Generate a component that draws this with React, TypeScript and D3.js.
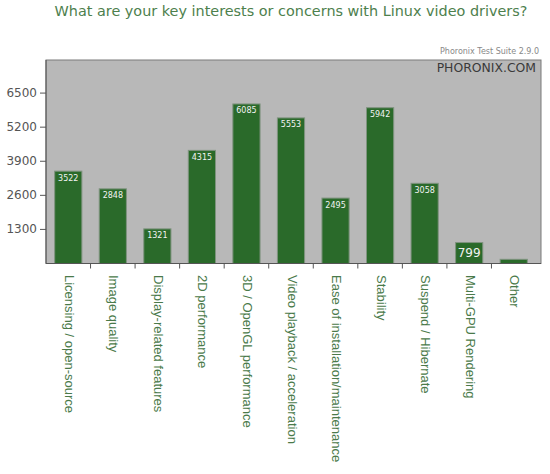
import * as React from "react";
import * as d3 from "d3";

const categories = [
  "Licensing / open-source",
  "Image quality",
  "Display-related features",
  "2D performance",
  "3D / OpenGL performance",
  "Video playback / acceleration",
  "Ease of installation/maintenance",
  "Stability",
  "Suspend / Hibernate",
  "Multi-GPU Rendering",
  "Other",
];
const votes = [3522, 2848, 1321, 4315, 6085, 5553, 2495, 5942, 3058, 799, 160];
const yTicks = [1300, 2600, 3900, 5200, 6500];

const title = "What are your key interests or concerns with Linux video drivers?";

const W = 550;
const H = 474;
const plot = { left: 46, right: 541, top: 60, bottom: 263.5 };

export default function App() {
  const x = d3
    .scaleBand<string>()
    .domain(categories)
    .range([plot.left, 536])
    .paddingInner(0.39)
    .paddingOuter(0.195);
  const y = d3.scaleLinear().domain([0, 7800]).range([plot.bottom, 59]);
  const step = x.step();

  return (
    <svg
      width={W}
      height={H}
      style={{ position: "absolute", left: 0, top: 0, background: "#fff" }}
      fontFamily="DejaVu Sans"
    >
      <text x={291} y={16} textAnchor="middle" fontSize={14.4} fill="#4d804d">
        {title}
      </text>
      <text x={539} y={54} textAnchor="end" fontSize={8} fill="#888">
        Phoronix Test Suite 2.9.0
      </text>

      {/* plot frame */}
      <rect
        x={plot.left}
        y={plot.top}
        width={plot.right - plot.left}
        height={plot.bottom - plot.top}
        fill="#b8b8b8"
        stroke="#7a7a7a"
        strokeWidth={1}
      />
      <text x={536} y={72} textAnchor="end" fontSize={12.4} fill="#3a3a3a">
        PHORONIX.COM
      </text>

      {/* bars */}
      {categories.map((c, i) => {
        const v = votes[i];
        const bx = x(c) as number;
        const bw = x.bandwidth();
        const top = y(v);
        const h = plot.bottom - top;
        return (
          <g key={c}>
            <rect x={bx} y={top} width={bw} height={h} fill="#2a6a2a" stroke="#7f937f" strokeWidth={1} />
            {h > 25 && (
              <text x={bx + bw / 2} y={top + 9.5} textAnchor="middle" fontSize={8} fill="#f2f2f2">
                {v}
              </text>
            )}
            {h > 10 && h <= 25 && (
              <text x={bx + bw / 2} y={top + 14} textAnchor="middle" fontSize={12} fill="#f2f2f2">
                {v}
              </text>
            )}
          </g>
        );
      })}

      {/* axes */}
      <line x1={plot.left} x2={plot.left} y1={plot.top} y2={plot.bottom} stroke="#555" />
      <line x1={plot.left} x2={plot.right} y1={plot.bottom} y2={plot.bottom} stroke="#555" />
      {yTicks.map((t) => (
        <g key={t}>
          <line x1={plot.left - 6} x2={plot.left} y1={y(t)} y2={y(t)} stroke="#555" />
          <text x={37} y={y(t) + 4} textAnchor="end" fontSize={12} fill="#555">
            {t}
          </text>
        </g>
      ))}
      {categories.slice(1).map((c) => {
        const bx = (x(c) as number) - (step - x.bandwidth()) / 2;
        return <line key={c} x1={bx} x2={bx} y1={plot.bottom} y2={plot.bottom + 5} stroke="#555" />;
      })}
      {categories.map((c) => {
        const cx = (x(c) as number) + x.bandwidth() / 2;
        return (
          <text
            key={c}
            transform={`translate(${cx - 3.5},275) rotate(90)`}
            fontFamily="Liberation Sans"
            fontSize={13}
            fill="#4a7a4a"
          >
            {c}
          </text>
        );
      })}
    </svg>
  );
}
